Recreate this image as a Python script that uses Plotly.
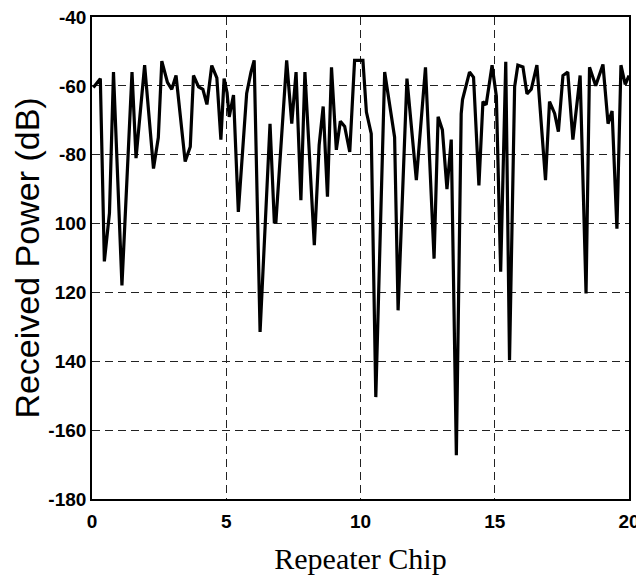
import plotly.graph_objects as go

chip = [0.05, 0.31, 0.46, 0.65, 0.80, 1.115, 1.49, 1.64, 1.96, 2.29, 2.47, 2.60, 2.81, 2.97, 3.13,
        3.47, 3.66, 3.78, 3.97, 4.13, 4.28, 4.46, 4.65, 4.80, 4.92, 5.03, 5.11, 5.27, 5.45, 5.76,
        5.92, 6.04, 6.26, 6.63, 6.79, 6.85, 7.25, 7.44, 7.60, 7.78, 7.93, 8.28, 8.46, 8.61, 8.77,
        8.92, 9.10, 9.25, 9.41, 9.60, 9.78, 10.09, 10.22, 10.40, 10.57, 10.90, 11.27, 11.40, 11.73,
        12.08, 12.42, 12.74, 12.89, 13.05, 13.22, 13.38, 13.57, 13.75, 13.80, 14.06, 14.21, 14.41,
        14.56, 14.68, 14.90, 15.06, 15.22, 15.41, 15.55, 15.74, 15.86, 16.05, 16.20, 16.36, 16.57,
        16.89, 17.04, 17.23, 17.37, 17.54, 17.72, 17.91, 18.18, 18.40, 18.53, 18.76, 19.03, 19.22,
        19.37, 19.55, 19.70, 19.86, 20.0]
power = [-60.5, -57.9, -111, -97, -56, -118, -56, -81, -54, -84, -75, -52.8, -59, -61, -57,
         -82, -77.7, -57, -60.3, -61, -65.4, -54.1, -57.7, -75.6, -57.9, -62, -69, -62.7, -96.6, -62.2,
         -56, -52.6, -131.5, -71, -99.5, -99.5, -52.6, -71, -56, -93.2, -56, -106.3, -77.2, -66, -92.2,
         -54.6, -78.6, -70.3, -71.8, -79.2, -52.6, -52.6, -67.6, -73.9, -150.4, -56, -74.9, -125.2, -57.9,
         -87.4, -54.6, -110.2, -69, -72.8, -90, -75.6, -167.3, -68.1, -64, -56, -57.5, -88.9,
         -64.6, -65.5, -54, -63, -114, -53, -139.7, -60.3, -54, -54.5, -62.3, -61, -54,
         -87.4, -64.6, -68, -73.3, -57, -56, -75.6, -57, -120.3, -54.6, -60, -53.8, -71,
         -67.3, -101.5, -54, -59.6, -57]

x_ticks = [0, 5, 10, 15, 20]
x_labels = ["0", "5", "10", "15", "20"]
y_ticks = [-40, -60, -80, -100, -120, -140, -160, -180]
y_labels = ["-40", "-60", "-80", "100", "120", "140", "-160", "-180"]

fig = go.Figure()
fig.add_trace(go.Scatter(x=chip, y=power, mode="lines",
                         line=dict(color="black", width=3.2), showlegend=False))

tickfont = dict(family="Liberation Sans, Arial", size=19,
                color="black", weight="bold")

fig.update_layout(
    width=636, height=567,
    margin=dict(l=84, r=15, t=9, b=76),
    paper_bgcolor="white", plot_bgcolor="white",
    xaxis=dict(range=[0, 20], tickvals=x_ticks, ticktext=x_labels, tickfont=tickfont,
               showline=True, linecolor="black", linewidth=1.6, mirror=True,
               showgrid=True, gridcolor="#222222", gridwidth=1, griddash="8px,5px",
               zeroline=False, ticks="", ticklen=0, automargin=False,
               ticklabelstandoff=4, ticklabeloverflow="allow",
               title=dict(text="Repeater Chip",
                          font=dict(family="Liberation Serif, Times New Roman", size=30, color="black"),
                          standoff=26)),
    yaxis=dict(range=[-180, -40], tickvals=y_ticks, ticktext=y_labels, tickfont=tickfont,
               showline=True, linecolor="black", linewidth=1.6, mirror=True,
               showgrid=True, gridcolor="#222222", gridwidth=1, griddash="8px,5px",
               zeroline=False, ticks="", ticklen=0, automargin=False,
               ticklabelstandoff=0, ticklabeloverflow="allow",
               title=dict(text="Received Power (dB)",
                          font=dict(family="Liberation Sans, Arial", size=34, color="black"),
                          standoff=6)),
)

fig.write_html("out.html")
